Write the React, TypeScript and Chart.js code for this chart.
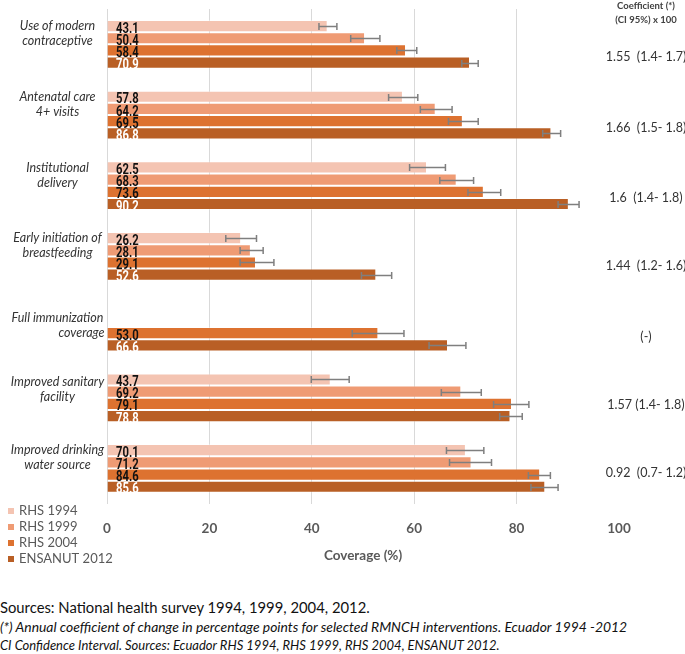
import React, { useEffect, useRef } from 'react';
import { Chart, registerables } from 'chart.js';

Chart.register(...registerables);

// ---- data ----
const categories: string[][] = [
  ['Use of modern', 'contraceptive'],
  ['Antenatal care', '4+ visits'],
  ['Institutional', 'delivery'],
  ['Early initiation of', 'breastfeeding'],
  ['Full immunization', 'coverage'],
  ['Improved sanitary', 'facility'],
  ['Improved drinking', 'water source'],
];

const seriesNames = ['RHS 1994', 'RHS 1999', 'RHS 2004', 'ENSANUT 2012'];

const rhs1994 = [43.1, 57.8, 62.5, 26.2, null, 43.7, 70.1];
const rhs1999 = [50.4, 64.2, 68.3, 28.1, null, 69.2, 71.2];
const rhs2004 = [58.4, 69.5, 73.6, 29.1, 53.0, 79.1, 84.6];
const ensanut2012 = [70.9, 86.8, 90.2, 52.6, 66.6, 78.8, 85.6];

const rhs1994Low = [41.4, 55.0, 59.1, 23.2, null, 39.9, 66.3];
const rhs1994High = [44.9, 60.7, 66.1, 29.2, null, 47.3, 73.6];
const rhs1999Low = [47.6, 61.2, 65.0, 26.0, null, 65.3, 66.9];
const rhs1999High = [53.3, 67.4, 71.6, 30.5, null, 73.1, 75.1];
const rhs2004Low = [56.6, 66.7, 70.5, 26.0, 47.9, 75.5, 82.3];
const rhs2004High = [60.5, 72.5, 76.9, 32.6, 58.0, 82.4, 86.6];
const ensanutLow = [69.3, 85.1, 88.1, 49.7, 62.9, 76.7, 82.8];
const ensanutHigh = [72.5, 88.6, 92.2, 55.6, 70.1, 81.1, 88.1];

const coefficients = [
  '1.55  (1.4- 1.7)',
  '1.66  (1.5- 1.8)',
  '1.6  (1.4- 1.8)',
  '1.44  (1.2- 1.6)',
  '(-)',
  '1.57 (1.4- 1.8)',
  '0.92  (0.7- 1.2)',
];
const coefHeader = ['Coefficient (*)', '(CI 95%) x 100'];

const xTickMin = 0;
const xTickMax = 100;
const xTickStep = 20;
const xTitle = 'Coverage (%)';

const sourceLines = [
  'Sources: National health survey 1994, 1999, 2004, 2012.',
  '(*) Annual coefficient of change in percentage points for selected RMNCH interventions. Ecuador 1994 -2012',
  'CI Confidence Interval. Sources: Ecuador RHS 1994, RHS 1999, RHS 2004, ENSANUT 2012.',
];

// ---- styles ----
const seriesColors = ['#f4c4b2', '#ef9b74', '#dd7230', '#b95f25'];
const labelColors = ['#111111', '#111111', '#111111', '#ffffff'];
const catLabelDy = [-10.5, -10.5, -10.5, -10.5, -2, -8.5, -10.5];
const coefDy = [12.5, 12.5, 12.5, 9.5, 9.5, 7.5, 5];
const sourceFontSizes = [14.8, 13.9, 13];

const seriesValues = [rhs1994, rhs1999, rhs2004, ensanut2012];
const seriesLow = [rhs1994Low, rhs1999Low, rhs2004Low, ensanutLow];
const seriesHigh = [rhs1994High, rhs1999High, rhs2004High, ensanutHigh];

const overlayPlugin = {
  id: 'overlay',
  afterDatasetsDraw(chart: any) {
    const { ctx } = chart;
    const xs = chart.scales.x;
    // error bars
    ctx.save();
    ctx.strokeStyle = '#7f7f7f';
    ctx.lineWidth = 1.5;
    chart.data.datasets.forEach((ds: any, di: number) => {
      const meta = chart.getDatasetMeta(di);
      meta.data.forEach((el: any, i: number) => {
        const v = ds.data[i];
        const lo = seriesLow[di][i];
        const hi = seriesHigh[di][i];
        if (v == null || lo == null || hi == null) return;
        const x1 = xs.getPixelForValue(lo);
        const x2 = xs.getPixelForValue(hi);
        const yy = Math.round(el.y) + 0.5;
        ctx.beginPath();
        ctx.moveTo(x1, yy);
        ctx.lineTo(x2, yy);
        ctx.moveTo(x1, yy - 3.5);
        ctx.lineTo(x1, yy + 3.5);
        ctx.moveTo(x2, yy - 3.5);
        ctx.lineTo(x2, yy + 3.5);
        ctx.stroke();
      });
    });
    ctx.restore();

    // value labels
    ctx.save();
    ctx.font = 'bold 15px Roboto';
    ctx.textAlign = 'left';
    ctx.textBaseline = 'alphabetic';
    chart.data.datasets.forEach((ds: any, di: number) => {
      const meta = chart.getDatasetMeta(di);
      meta.data.forEach((el: any, i: number) => {
        const v = ds.data[i];
        if (v == null) return;
        ctx.fillStyle = labelColors[di];
        ctx.save();
        ctx.translate(xs.getPixelForValue(0) + 9, el.y + el.height / 2 + 0.5);
        ctx.scale(0.75, 1);
        ctx.fillText(Number(v).toFixed(1), 0, 0);
        ctx.restore();
      });
    });
    ctx.restore();
  },
  afterDraw(chart: any) {
    const { ctx, chartArea } = chart;
    const ys = chart.scales.y;
    ctx.save();
    // category labels
    ctx.font = 'italic 12.5px Lato';
    ctx.fillStyle = '#333333';
    ctx.textBaseline = 'middle';
    const lh = 15;
    const cx = chartArea.left / 2 + 4;
    (chart.data.labels as string[][]).forEach((lines, i) => {
      const c = ys.getPixelForValue(i) + catLabelDy[i];
      const start = c - ((lines.length - 1) * lh) / 2;
      if (i === 4) {
        const w0 = ctx.measureText(lines[0]).width;
        const rightEdge = cx + w0 / 2;
        ctx.textAlign = 'center';
        ctx.fillText(lines[0], cx, start);
        ctx.textAlign = 'right';
        ctx.fillText(lines[1], rightEdge + 1, start + lh);
      } else {
        ctx.textAlign = 'center';
        lines.forEach((t, k) => ctx.fillText(t, cx, start + k * lh));
      }
    });

    // coefficient column
    ctx.textAlign = 'center';
    const colX = chartArea.right + 27;
    ctx.font = 'bold 9.5px Lato';
    ctx.fillStyle = '#404040';
    ctx.fillText(coefHeader[0], colX, 6);
    ctx.fillText(coefHeader[1], colX, 20);
    ctx.font = '12.5px Lato';
    ctx.fillStyle = '#333333';
    coefficients.forEach((t, i) => {
      ctx.fillText(t, colX, ys.getPixelForValue(i) + coefDy[i]);
    });

    // legend
    ctx.font = '13px Lato';
    ctx.textAlign = 'left';
    chart.data.datasets.forEach((ds: any, di: number) => {
      const yy = 511 + di * 16;
      ctx.fillStyle = ds.backgroundColor;
      ctx.fillRect(8, yy - 3, 6, 6);
      ctx.fillStyle = '#595959';
      ctx.fillText(ds.label, 19, yy);
    });
    ctx.restore();
  },
};

export default function App() {
  const ref = useRef<HTMLCanvasElement>(null);
  useEffect(() => {
    document.body.style.margin = '0';
    const canvas = ref.current;
    if (!canvas) return;
    const chart = new Chart(canvas, {
      type: 'bar',
      data: {
        labels: categories as any,
        datasets: seriesNames.map((name, di) => ({
          label: name,
          data: seriesValues[di] as any,
          backgroundColor: seriesColors[di],
          borderColor: 'rgba(255,255,255,0.35)',
          borderWidth: 1,
          categoryPercentage: 0.69,
          barPercentage: 1,
        })),
      },
      options: {
        indexAxis: 'y',
        responsive: false,
        animation: false,
        devicePixelRatio: 1,
        layout: { padding: { left: 107, right: 66, top: 9, bottom: 26.3 } },
        plugins: { legend: { display: false }, tooltip: { enabled: false } },
        scales: {
          y: { display: false, grid: { display: false } },
          x: {
            min: xTickMin,
            max: xTickMax,
            ticks: {
              stepSize: xTickStep,
              color: '#595959',
              font: { family: 'Lato', size: 13.5, weight: 'bold' },
              padding: 16.75,
            },
            grid: {
              drawTicks: false,
              color: (c: any) => (c.tick && c.tick.value === xTickMax ? 'rgba(0,0,0,0)' : '#d9d9d9'),
            },
            border: { display: false },
            title: {
              display: true,
              text: xTitle,
              color: '#595959',
              font: { family: 'Lato', size: 13.5, weight: 'bold' },
              padding: { top: -6, bottom: 0 },
            },
          },
        },
      },
      plugins: [overlayPlugin],
    });
    return () => chart.destroy();
  }, []);

  return (
    <div style={{ position: 'relative', width: 685, height: 654, overflow: 'hidden' }}>
      <canvas ref={ref} width={685} height={590} style={{ position: 'absolute', left: 0, top: 0 }} />
      {sourceLines.map((t, i) => (
        <div
          key={i}
          style={{
            position: 'absolute',
            left: 0,
            top: 598 + i * 19,
            height: 19,
            lineHeight: '19px',
            fontFamily: 'Lato',
            fontSize: sourceFontSizes[i],
            fontStyle: i === 0 ? 'normal' : 'italic',
            color: '#111',
            whiteSpace: 'nowrap',
          }}
        >
          {t}
        </div>
      ))}
    </div>
  );
}
